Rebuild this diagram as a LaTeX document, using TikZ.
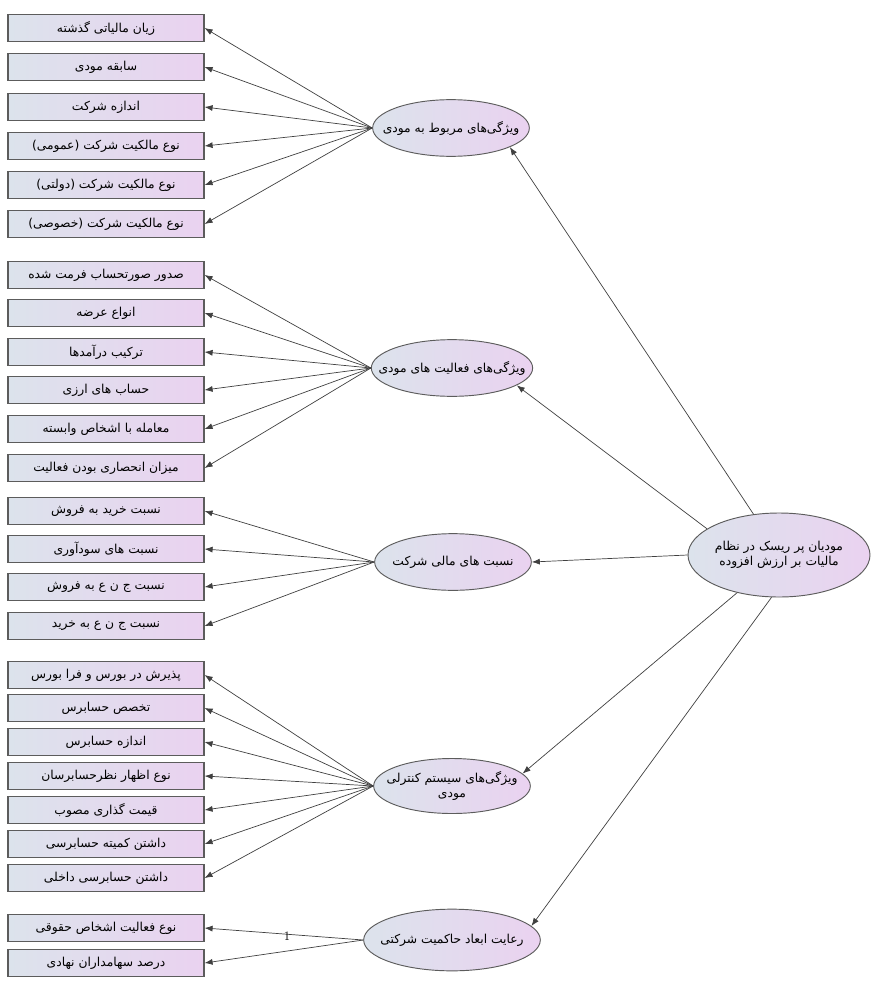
\documentclass[tikz,border=0pt]{standalone}
\usepackage{fontspec}
\usepackage{xcolor}
\usepackage{tikz}
\usetikzlibrary{arrows.meta,shapes.geometric}
\newfontfamily\persian[Script=Arabic]{DejaVu Sans}
\TeXXeTstate=1
\newcommand{\fatext}[1]{{\persian\beginR #1\endR}}
\definecolor{boxblue}{HTML}{DCE3EC}
\definecolor{boxpink}{HTML}{EAD2F0}
\definecolor{edgegray}{HTML}{5C5C5C}
\tikzset{
  indicator/.style={draw=edgegray, line width=1pt, left color=boxblue, right color=boxpink,
    minimum width=5.88cm, minimum height=0.82cm, inner sep=1pt,
    font=\fontsize{10.5}{12}\selectfont},
  factor/.style={ellipse, draw=edgegray, line width=0.8pt, left color=boxblue, right color=boxpink,
    minimum width=4.7cm, minimum height=1.7cm, inner xsep=-14pt, inner ysep=0pt, align=center,
    font=\fontsize{10.5}{13}\selectfont},
  loading/.style={-{Latex[length=2.4mm,width=1.8mm]}, draw=black!75, line width=0.6pt}
}

\begin{document}
\begin{tikzpicture}[x=0.03cm,y=-0.03cm]
  \useasboundingbox (0,0) rectangle (870,983);
  % Main construct
  \node[factor, minimum width=5.46cm, minimum height=2.52cm] (risk) at (779,555)
    {\fatext{مودیان پر ریسک در نظام}\\\fatext{مالیات بر ارزش افزوده}};
  % Dimensions
  \node[factor] (taxpayer) at (451,128) {\fatext{ویژگی‌های مربوط به مودی}};
  \node[factor] (activity) at (452,368) {\fatext{ویژگی‌های فعالیت های مودی}};
  \node[factor] (ratios) at (453,562) {\fatext{نسبت های مالی شرکت}};
  \node[factor, minimum height=1.65cm] (control) at (452,786)
    {\fatext{ویژگی‌های سیستم کنترلی}\\\fatext{مودی}};
  \node[factor, minimum width=5.3cm, minimum height=1.85cm] (governance) at (452,940)
    {\fatext{رعایت ابعاد حاکمیت شرکتی}};
  % Main construct to dimensions
  \draw[loading] (risk.122) -- (taxpayer.-18);
  \draw[loading] (risk.160) -- (activity.-15);
  \draw[loading] (risk.west) -- (ratios.east);
  \draw[loading] (risk.222) -- (control.10);
  \draw[loading] (risk.260) -- (governance.10);

  % Indicators of taxpayer characteristics
  \node[indicator] (tp1) at (106,28) {\fatext{زیان مالیاتی گذشته}};
  \node[indicator] (tp2) at (106,67) {\fatext{سابقه مودی}};
  \node[indicator] (tp3) at (106,107) {\fatext{اندازه شرکت}};
  \node[indicator] (tp4) at (106,146) {\fatext{نوع مالکیت شرکت (عمومی)}};
  \node[indicator] (tp5) at (106,185) {\fatext{نوع مالکیت شرکت (دولتی)}};
  \node[indicator] (tp6) at (106,224) {\fatext{نوع مالکیت شرکت (خصوصی)}};
  \draw[loading] (taxpayer.west) -- (tp1.east);
  \draw[loading] (taxpayer.west) -- (tp2.east);
  \draw[loading] (taxpayer.west) -- (tp3.east);
  \draw[loading] (taxpayer.west) -- (tp4.east);
  \draw[loading] (taxpayer.west) -- (tp5.east);
  \draw[loading] (taxpayer.west) -- (tp6.east);

  % Indicators of activity characteristics
  \node[indicator] (ac1) at (106,275) {\fatext{صدور صورتحساب فرمت شده}};
  \node[indicator] (ac2) at (106,313) {\fatext{انواع عرضه}};
  \node[indicator] (ac3) at (106,352) {\fatext{ترکیب درآمدها}};
  \node[indicator] (ac4) at (106,390) {\fatext{حساب های ارزی}};
  \node[indicator] (ac5) at (106,429) {\fatext{معامله با اشخاص وابسته}};
  \node[indicator] (ac6) at (106,468) {\fatext{میزان انحصاری بودن فعالیت}};
  \draw[loading] (activity.west) -- (ac1.east);
  \draw[loading] (activity.west) -- (ac2.east);
  \draw[loading] (activity.west) -- (ac3.east);
  \draw[loading] (activity.west) -- (ac4.east);
  \draw[loading] (activity.west) -- (ac5.east);
  \draw[loading] (activity.west) -- (ac6.east);

  % Indicators of financial ratios
  \node[indicator] (fr1) at (106,511) {\fatext{نسبت خرید به فروش}};
  \node[indicator] (fr2) at (106,549) {\fatext{نسبت های سودآوری}};
  \node[indicator] (fr3) at (106,587) {\fatext{نسبت ج ن ع به فروش}};
  \node[indicator] (fr4) at (106,626) {\fatext{نسبت ج ن ع به خرید}};
  \draw[loading] (ratios.west) -- (fr1.east);
  \draw[loading] (ratios.west) -- (fr2.east);
  \draw[loading] (ratios.west) -- (fr3.east);
  \draw[loading] (ratios.west) -- (fr4.east);

  % Indicators of control system
  \node[indicator] (cs1) at (106,675) {\fatext{پذیرش در بورس و فرا بورس}};
  \node[indicator] (cs2) at (106,708) {\fatext{تخصص حسابرس}};
  \node[indicator] (cs3) at (106,742) {\fatext{اندازه حسابرس}};
  \node[indicator] (cs4) at (106,776) {\fatext{نوع اظهار نظرحسابرسان}};
  \node[indicator] (cs5) at (106,810) {\fatext{قیمت گذاری مصوب}};
  \node[indicator] (cs6) at (106,844) {\fatext{داشتن کمیته حسابرسی}};
  \node[indicator] (cs7) at (106,878) {\fatext{داشتن حسابرسی داخلی}};
  \draw[loading] (control.west) -- (cs1.east);
  \draw[loading] (control.west) -- (cs2.east);
  \draw[loading] (control.west) -- (cs3.east);
  \draw[loading] (control.west) -- (cs4.east);
  \draw[loading] (control.west) -- (cs5.east);
  \draw[loading] (control.west) -- (cs6.east);
  \draw[loading] (control.west) -- (cs7.east);

  % Indicators of corporate governance
  \node[indicator] (cg1) at (106,928) {\fatext{نوع فعالیت اشخاص حقوقی}};
  \node[indicator] (cg2) at (106,963) {\fatext{درصد سهامداران نهادی}};
  \draw[loading] (governance.west) -- (cg1.east)
    node[pos=0.48, below=-3pt, inner sep=0.5pt, font=\fontsize{11}{12}\selectfont] {1};
  \draw[loading] (governance.west) -- (cg2.east);
\end{tikzpicture}
\end{document}
